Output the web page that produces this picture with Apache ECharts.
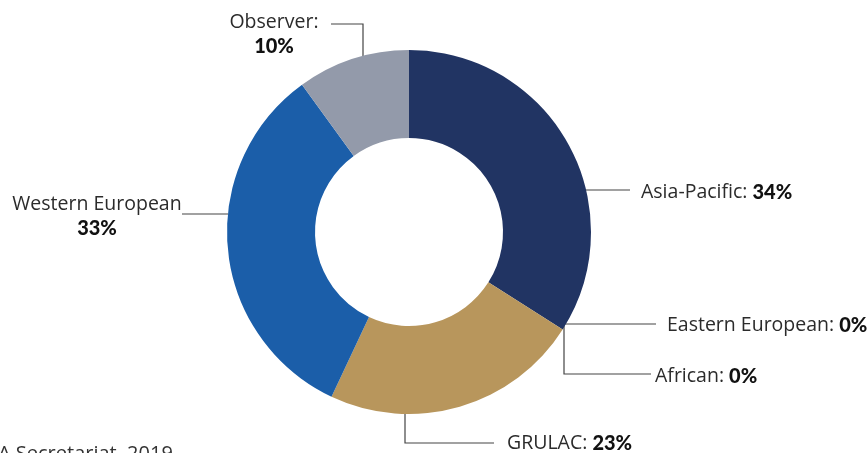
<!DOCTYPE html>
<html>
<head>
<meta charset="utf-8">
<script src="https://cdn.jsdelivr.net/npm/echarts@6/dist/echarts.min.js"></script>
<style>
  html, body { margin: 0; padding: 0; background: #fff; }
  #chart { width: 868px; height: 453px; }
</style>
</head>
<body>
<div id="chart"></div>
<script>
// Regional group shares (%), drawn clockwise from 12 o'clock
const groups = ['Asia-Pacific', 'Eastern European', 'African', 'GRULAC', 'Western European', 'Observer'];
const shares = [34, 0, 0, 23, 33, 10];
const groupColors = ['#213463', '#213463', '#213463', '#b8965c', '#1b5ea9', '#939aaa'];

// Label placement: text anchor and leader-line path, per group
const labelPlacement = {
  'Asia-Pacific':     { x: 641, y: 190, align: 'left',   line: [[585, 190], [630, 190]] },
  'Eastern European': { x: 667, y: 323, align: 'left',   line: [[564, 324], [656, 324]] },
  'African':          { x: 655, y: 374, align: 'left',   line: [[564, 324], [564, 374], [651, 374]] },
  'GRULAC':           { x: 507, y: 441, align: 'left',   line: [[405, 410], [405, 443], [494, 443]] },
  'Western European': { x: 97,  y: 214, align: 'center', line: [[228, 214], [182, 214]] },
  'Observer':         { x: 274, y: 32,  align: 'center', line: [[363, 56], [363, 24], [331, 24]] }
};

const chart = echarts.init(document.getElementById('chart'), null, { renderer: 'canvas' });

chart.setOption({
  animation: false,
  graphic: [{
    type: 'text',
    left: -2,
    top: 444,
    style: { text: 'A Secretariat, 2019', fill: '#333', font: '400 20px "Open Sans"' }
  }],
  series: [{
    type: 'pie',
    center: [409, 232],
    radius: [94, 182],
    startAngle: 90,
    clockwise: true,
    avoidLabelOverlap: false,
    minShowLabelAngle: 0,
    itemStyle: { borderWidth: 0 },
    data: groups.map((g, i) => ({
      name: g,
      value: shares[i],
      itemStyle: { color: groupColors[i] },
      label: { align: labelPlacement[g].align }
    })),
    label: {
      show: true,
      position: 'outside',
      formatter: p => {
        if (p.name === 'Observer') return '{n|' + p.name + ':}\n{v|' + p.value + '%}';
        if (p.name === 'Western European') return '{n|' + p.name + '}\n{v|' + p.value + '%}';
        return '{n|' + p.name + ': }{v|' + p.value + '%}';
      },
      rich: {
        n: { fontFamily: 'Open Sans', fontSize: 19.5, fontWeight: 400, color: '#2b2b2b', lineHeight: 25 },
        v: { fontFamily: 'Lato', fontSize: 20, fontWeight: 900, color: '#111', lineHeight: 25 }
      }
    },
    labelLine: {
      show: true,
      lineStyle: { color: '#444', width: 1.2 }
    },
    labelLayout: params => {
      const name = groups[params.dataIndex];
      const pl = labelPlacement[name];
      const h = params.labelRect.height;
      return {
        x: pl.x,
        y: pl.y - h / 2,
        align: pl.align,
        verticalAlign: 'top',
        labelLinePoints: pl.line
      };
    }
  }]
});
</script>
</body>
</html>
